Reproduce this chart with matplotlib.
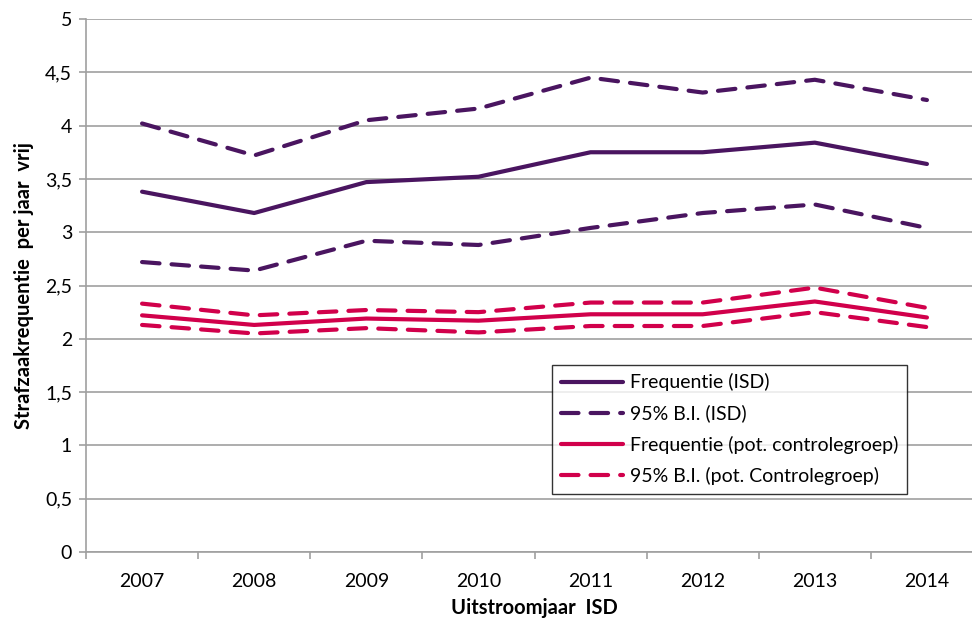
import matplotlib
matplotlib.use("Agg")
import matplotlib.pyplot as plt

plt.rcParams["font.family"] = ["Lato", "DejaVu Sans"]

years = ["2007", "2008", "2009", "2010", "2011", "2012", "2013", "2014"]
freq_isd = [3.38, 3.18, 3.47, 3.52, 3.75, 3.75, 3.84, 3.64]
upper_isd = [4.02, 3.72, 4.05, 4.16, 4.45, 4.31, 4.43, 4.24]
lower_isd = [2.72, 2.64, 2.92, 2.88, 3.04, 3.18, 3.26, 3.04]
freq_ctrl = [2.22, 2.13, 2.19, 2.17, 2.23, 2.23, 2.35, 2.20]
upper_ctrl = [2.33, 2.22, 2.27, 2.25, 2.34, 2.34, 2.48, 2.29]
lower_ctrl = [2.13, 2.05, 2.10, 2.06, 2.12, 2.12, 2.25, 2.11]
yticks = [0, 0.5, 1, 1.5, 2, 2.5, 3, 3.5, 4, 4.5, 5]

PURPLE = "#4a1560"
RED = "#d1004b"
GRID = "#a0a0a0"
DASH = (0, (4.2, 2.9))

fig = plt.figure(figsize=(9.72, 6.21), dpi=100)
ax = fig.add_axes([86 / 972, 1 - 552 / 621, (983 - 86) / 972, (552 - 19) / 621])

x = list(range(len(years)))
kw = dict(linewidth=3, solid_capstyle="round", dash_capstyle="round")
ax.plot(x, freq_isd, color=PURPLE, label="Frequentie (ISD)", **kw)
ax.plot(x, upper_isd, color=PURPLE, linestyle=DASH, label="95% B.I. (ISD)", **kw)
ax.plot(x, lower_isd, color=PURPLE, linestyle=DASH, **kw)
ax.plot(x, freq_ctrl, color=RED, label="Frequentie (pot. controlegroep)", **kw)
ax.plot(x, upper_ctrl, color=RED, linestyle=DASH,
        label="95% B.I. (pot. Controlegroep)", **kw)
ax.plot(x, lower_ctrl, color=RED, linestyle=DASH, **kw)

ax.set_xlim(-0.5, len(years) - 0.5)
ax.set_ylim(0, 5)
ax.set_yticks(yticks)
ax.set_yticklabels([f"{v:g}".replace(".", ",") for v in yticks])
ax.set_xticks(x)
ax.set_xticklabels(years)
ax.set_xticks([i - 0.5 for i in range(len(years) + 1)], minor=True)

ax.grid(axis="y", color=GRID, linewidth=1.2)
ax.set_axisbelow(True)
for side in ["top", "right"]:
    ax.spines[side].set_visible(False)
for side in ["left", "bottom"]:
    ax.spines[side].set_color(GRID)
    ax.spines[side].set_linewidth(1.2)

ax.tick_params(axis="y", length=5, color=GRID, width=1.2, labelsize=14, pad=5)
ax.tick_params(axis="x", which="major", length=0, labelsize=14, pad=15)
ax.tick_params(axis="x", which="minor", length=5, color=GRID, width=1.2)

ax.set_ylabel("Strafzaakrequentie  per jaar  vrij", fontsize=14.5, fontweight="bold",
              labelpad=8)
ax.set_xlabel("Uitstroomjaar  ISD", fontsize=14.5, fontweight="bold", labelpad=6)

leg = ax.legend(loc="lower left", bbox_to_anchor=(0.513, 0.098), fontsize=14,
                frameon=True, fancybox=False, handlelength=3.2, borderpad=0.45,
                labelspacing=0.68, handletextpad=0.35, borderaxespad=0.3)
leg.get_frame().set_edgecolor("black")
leg.get_frame().set_linewidth(1.0)

fig.savefig("out.png", dpi=100)
